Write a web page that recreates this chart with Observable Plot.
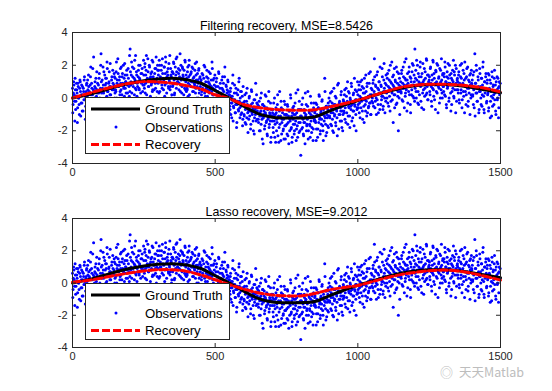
<!DOCTYPE html>
<html><head><meta charset="utf-8">
<script src="https://cdn.jsdelivr.net/npm/d3@7"></script>
<script src="https://cdn.jsdelivr.net/npm/@observablehq/plot@0.6"></script>
<style>
body{margin:0;background:#fff;}
#wrap{position:relative;width:552px;height:391px;font-family:"Liberation Sans",Arial,sans-serif;overflow:hidden;}
.panel{position:absolute;left:0;}
.legend{position:absolute;left:85px;width:145px;background:#fff;border:1px solid #262626;box-sizing:border-box;}
.wm{position:absolute;left:440px;top:362px;color:#bdbdbd;font-size:12.5px;font-family:"Noto Sans CJK SC","Liberation Sans",sans-serif;}
</style>
</head><body><div id="wrap"></div>
<script>
// ---------- data ----------
const xStep = 2; // observation sample spacing; even samples at x = 0,2,4..., odd samples at x = 1,3,5...
const observationsEven = [
0.6,-0.4,1.0,0.2,-1.4,0.5,-0.2,0.9,0.3,-0.6,0.7,0.0,-1.0,1.1,0.4,-0.3,0.8,-0.8,0.2,0.6,-0.1,1.3,0.1,-0.5,0.4,
0.9,-0.2,0.5,1.4,-0.7,0.3,0.8,1.9,-0.1,0.6,0.2,-1.3,2.5,0.4,0.7,-0.4,1.2,0.1,0.5,0.9,-0.6,0.3,1.5,0.0,0.6,
2.7,0.3,1.1,-0.2,0.8,1.6,0.5,-0.6,1.2,0.9,0.1,1.8,0.4,-0.3,1.0,0.7,2.1,0.2,0.6,1.3,-0.5,0.9,0.5,1.5,0.0,
1.2,0.4,2.2,0.9,-0.1,1.5,0.7,1.1,0.2,1.8,0.5,-0.5,1.3,0.9,2.0,0.6,0.1,1.4,1.0,0.3,1.7,0.8,-0.3,1.2,0.7,
2.6,3.0,0.8,1.4,0.3,1.9,0.9,-0.2,1.2,2.3,0.6,1.0,1.6,0.1,0.7,1.3,2.0,0.5,1.1,-0.4,1.5,0.9,1.8,0.4,1.0,
1.4,0.6,2.1,0.9,1.7,0.2,1.2,2.4,0.7,1.0,1.9,-0.1,1.3,0.8,1.6,0.4,2.2,1.1,0.5,1.5,0.9,1.8,0.0,1.2,2.0,
0.9,1.7,2.3,0.4,1.3,1.0,2.0,0.6,1.5,-0.2,1.1,1.9,0.8,2.5,1.2,0.3,1.6,1.4,0.7,2.1,1.0,0.5,1.8,1.3,0.2,
1.6,0.8,2.2,1.1,0.3,1.9,1.4,0.6,2.5,1.0,-0.1,1.5,0.9,1.7,0.4,2.0,1.2,0.7,1.8,1.3,0.2,1.1,2.3,0.5,1.4,
1.2,0.5,1.9,0.9,2.0,0.2,1.4,0.7,1.6,-0.3,1.0,1.8,0.4,1.3,0.8,2.1,0.6,1.1,0.0,1.5,0.9,1.7,0.3,1.2,0.7,
0.9,0.2,1.5,0.6,-0.4,1.2,0.8,1.9,0.1,0.7,1.3,-0.2,0.5,1.0,1.6,0.3,0.8,-0.6,1.1,0.4,1.8,0.6,0.0,1.2,0.5,
0.5,-0.3,1.0,0.2,-0.8,0.7,1.6,0.0,-0.4,0.9,0.3,-1.1,0.6,1.3,-0.1,0.4,-0.6,1.9,0.1,0.8,-0.3,0.5,1.1,-0.5,0.2,
0.2,-0.7,0.6,-0.3,-1.2,0.1,1.4,-0.5,-0.1,0.8,-0.9,-0.4,0.3,-1.5,-0.2,0.5,-0.8,1.2,-0.6,0.0,-1.0,0.4,-0.3,-1.7,0.7,
-0.3,-1.1,0.2,-0.7,-1.6,-0.2,0.6,-0.9,-0.5,-1.3,0.1,-0.8,-1.9,-0.4,0.4,-1.0,-0.6,-2.0,-0.1,-1.2,-0.7,0.9,-1.4,-0.3,-0.8,
-0.6,-1.5,-0.2,-1.1,-2.0,-0.8,0.3,-1.3,-0.4,-2.8,-1.0,-0.5,-1.7,-0.9,0.1,-1.4,-2.2,-0.7,-1.2,0.4,-1.6,-1.0,-0.3,-2.4,-1.1,
-1.4,-0.7,-2.1,-1.0,0.0,-1.6,-2.7,-0.9,-1.3,-0.4,-2.3,-1.1,-1.8,0.4,-1.2,-2.6,-0.6,-1.5,-0.9,-2.0,-1.3,-0.2,-1.7,-2.5,-1.0,
-1.0,-2.2,-0.5,-1.5,-2.8,-0.8,-1.3,0.2,-1.9,-1.1,-2.4,-0.6,-1.6,-1.0,-2.0,-0.3,-1.4,-2.6,-0.9,-1.7,0.5,-1.2,-2.1,-0.7,-1.5,
-3.5,-1.1,-0.4,-1.8,-1.3,-2.3,-0.7,-1.5,0.3,-1.0,-2.0,-1.6,-0.5,-2.5,-1.2,-0.9,-1.7,0.1,-1.4,-2.1,-0.8,-1.1,-1.9,-0.3,-1.3,
-0.8,-1.5,-2.6,-0.4,-1.1,-1.9,-0.6,0.2,-1.3,-2.2,-0.9,-1.6,-0.2,-1.0,-2.0,-0.7,-1.4,1.2,-1.2,-2.3,-0.5,-1.0,-1.7,-0.3,-1.1,
-0.5,-1.2,0.3,-0.9,-1.7,-0.3,-2.0,-0.7,0.6,-1.1,-0.4,-1.5,0.0,-0.8,-2.3,-0.6,0.9,-1.0,-0.2,-1.4,-0.8,0.4,-1.8,-0.5,-1.0,
-0.2,-0.9,0.5,-0.6,-1.5,0.1,-0.3,1.0,-1.1,-0.5,0.3,-1.8,-0.1,-0.7,0.7,-0.4,-1.2,0.2,-0.8,1.2,-0.5,-0.1,-2.0,0.4,-0.6,
0.2,-0.6,0.8,-0.3,-1.2,0.5,0.0,1.1,-0.8,-0.1,0.6,-1.5,0.3,-0.4,1.4,-0.2,0.7,-0.9,0.1,-0.5,0.9,-0.3,1.6,-1.0,0.2,
0.5,-0.3,1.1,0.2,2.4,-0.6,0.8,0.0,1.4,-0.1,0.6,-0.9,1.0,0.3,1.9,-0.4,0.7,0.1,1.3,-0.7,0.4,2.1,0.0,0.9,-0.2,
0.8,0.0,1.5,0.4,-0.5,1.1,0.6,2.0,-0.2,0.9,0.3,1.3,-1.5,0.7,1.8,0.2,1.0,-0.4,0.5,1.6,0.1,-2.0,0.8,1.2,0.4,
1.0,0.3,1.7,0.6,-0.2,1.3,0.8,2.2,0.1,1.1,0.5,-0.8,1.5,0.9,0.4,1.9,0.7,-0.4,1.2,0.2,1.6,0.8,2.0,0.0,1.0,
3.0,1.2,0.4,2.3,0.8,-0.3,1.5,1.0,0.2,1.9,0.7,1.3,-0.6,0.9,2.1,0.5,1.1,0.1,1.6,0.8,2.4,0.3,1.4,-0.1,1.0,
1.1,0.4,1.8,0.9,-0.2,1.4,0.6,2.2,0.1,1.2,0.8,-0.7,1.6,1.0,0.3,2.0,0.7,1.3,-0.3,0.9,1.7,0.5,1.1,0.0,1.5,
0.7,1.5,0.2,1.9,1.0,-0.4,1.3,0.6,2.1,0.9,0.0,1.4,0.8,-0.8,1.2,0.4,1.7,1.0,0.1,1.6,0.5,2.0,0.9,-0.2,1.1,
1.0,0.3,1.6,-0.3,0.8,1.3,0.5,2.1,-0.1,0.9,0.4,1.5,-0.9,0.7,1.2,0.2,1.8,0.6,-0.5,1.1,0.3,1.4,0.8,0.0,1.7,
0.8,0.1,1.4,0.5,-0.6,2.7,0.9,0.3,1.7,-0.2,0.6,1.1,-0.9,0.4,1.5,0.7,-0.4,1.2,0.2,1.9,0.5,-0.7,1.0,0.3,1.3,
0.6,-0.2,1.1,0.3,-0.8,1.4,0.5,-1.2,0.9,0.1,1.6,-0.5,0.7,0.2,1.2,-0.1,0.8,-1.0,0.4,1.3,0.0,0.6,-0.6,1.0,0.3
];
const observationsOdd = [
-0.9,0.3,0.8,-0.2,1.2,-0.7,0.1,0.5,-1.5,0.9,0.0,-0.4,0.6,1.0,-1.1,0.2,-0.3,0.7,-0.8,0.4,1.1,-0.1,-1.3,0.3,0.8,
0.1,1.1,-0.5,0.7,0.4,-1.0,1.3,0.2,0.9,-0.3,1.8,0.5,-0.8,0.0,1.0,0.6,-0.2,1.6,0.3,-1.4,0.8,1.2,-0.1,0.4,2.0,
1.0,-0.1,0.6,1.9,0.3,-0.9,1.4,0.8,0.0,1.2,2.2,0.4,-0.4,0.9,1.6,0.2,0.7,-0.7,1.1,0.5,1.7,-0.2,0.8,1.3,0.3,
0.5,1.6,0.0,1.1,2.4,0.8,-0.6,1.3,0.4,0.9,1.9,0.2,1.5,-0.2,0.7,1.2,2.1,0.6,1.0,-0.4,1.4,0.3,1.8,0.9,0.1,
0.4,1.6,1.0,2.2,-0.3,1.3,0.7,1.8,0.2,1.1,2.6,0.5,1.4,0.9,-0.1,1.7,0.6,1.2,2.0,0.3,1.0,1.5,-0.5,0.8,2.3,
0.8,1.9,0.3,1.4,2.6,1.0,-0.3,1.6,0.7,2.0,1.2,0.1,1.5,0.9,2.3,0.5,1.3,-0.5,1.1,1.8,0.6,2.5,1.0,0.4,1.7,
1.4,0.3,2.0,1.0,-0.4,1.7,0.8,2.4,1.2,0.5,1.9,0.1,1.5,2.2,0.9,1.3,-0.1,1.8,0.6,1.1,2.6,0.7,1.4,0.0,1.6,
0.7,1.5,2.1,0.2,1.2,0.9,2.4,1.6,-0.3,1.0,1.8,0.5,1.3,2.7,0.8,1.1,0.3,1.9,1.4,-0.2,1.7,0.6,2.2,1.0,0.4,
0.6,1.6,0.1,1.3,2.3,0.8,-0.1,1.5,1.0,1.9,0.4,1.2,-0.6,0.9,1.7,0.3,1.4,2.2,0.7,1.1,0.0,1.8,0.5,1.3,1.0,
1.1,0.4,-0.1,1.4,0.8,2.0,0.3,-0.8,1.0,0.6,1.7,0.1,1.2,-0.3,0.9,0.5,1.5,-0.5,0.7,2.2,0.2,1.1,-0.2,0.8,1.4,
-0.1,0.7,1.2,-0.6,0.4,0.0,1.5,-1.0,0.6,0.2,-0.3,1.1,-0.8,0.5,0.9,-0.2,1.3,0.1,-1.3,0.7,0.3,-0.5,1.0,0.4,-0.9,
-0.5,0.4,-1.0,0.1,-0.3,0.9,-1.4,-0.6,0.3,-0.1,-0.9,0.6,-1.8,-0.4,0.2,-0.7,1.0,-0.2,-1.2,0.4,-0.5,-0.9,0.1,-1.3,-0.3,
-1.0,-0.2,-1.5,-0.6,0.3,-1.2,-0.4,-2.1,-0.8,0.0,-1.1,-0.5,-1.6,0.5,-0.9,-0.3,-1.4,-0.7,-2.2,-0.1,-1.0,-0.6,0.2,-1.3,-0.4,
-1.3,-0.5,-2.0,-0.9,0.0,-1.6,-1.1,-2.5,-0.4,-1.2,-0.8,-1.9,0.2,-1.0,-1.5,-0.6,-2.3,-1.3,-0.2,-1.8,-0.9,-1.4,-2.7,-0.7,-1.1,
-0.9,-1.8,-0.3,-1.4,-2.4,-1.0,-0.6,-2.0,-1.5,0.2,-1.2,-2.7,-0.8,-1.6,-1.1,-0.2,-2.2,-1.3,-0.7,-1.9,-2.5,-1.0,-0.4,-1.7,-1.2,
-1.6,-0.4,-2.3,-1.1,-0.8,-2.0,-1.4,0.0,-1.8,-2.7,-0.9,-1.3,-0.5,-2.2,-1.6,-1.0,0.3,-1.9,-1.2,-2.4,-0.7,-1.5,-0.2,-2.0,-1.1,
-0.7,-1.9,-1.2,0.0,-2.2,-1.5,-0.9,-2.8,-1.1,-0.4,-1.7,-1.3,0.4,-2.0,-0.8,-1.6,-2.4,-1.0,-0.3,-1.8,-1.2,-2.6,-0.6,-1.4,-0.9,
-1.4,-0.3,-1.9,-1.0,-2.4,-0.6,-1.5,0.1,-1.2,-2.0,-0.8,-1.3,-0.1,-1.7,-2.6,-0.9,-1.1,0.4,-1.6,-0.5,-2.1,-1.2,-0.7,-1.8,0.0,
-1.1,-0.2,-1.6,-0.6,0.4,-1.3,-0.9,-2.1,-0.4,-1.0,0.1,-1.7,-0.7,-1.2,0.8,-0.5,-1.9,-0.3,-1.0,-0.6,0.2,-1.4,-0.8,-2.0,-0.1,
-0.8,0.2,-1.3,-0.4,0.6,-0.9,-0.2,-1.6,0.4,-0.6,-1.1,0.0,-0.5,0.9,-1.4,-0.3,-0.8,0.3,-1.7,-0.4,0.5,-1.0,-0.1,-0.7,1.0,
-0.4,0.5,-0.9,0.1,1.0,-0.6,-0.2,0.7,-1.3,0.3,-0.5,1.2,-0.1,-0.8,0.4,-1.1,0.9,0.0,-0.6,1.5,-0.3,0.2,-1.0,0.6,-0.2,
0.0,0.9,-0.5,0.4,1.3,-0.2,0.7,-1.0,0.2,1.6,-0.4,0.5,1.0,-0.7,0.3,0.8,-0.1,1.8,0.1,-0.5,1.1,0.6,-0.9,0.4,1.4,
0.3,1.2,-0.3,0.7,1.7,0.1,-0.8,1.0,0.5,2.2,-0.1,0.8,1.4,0.2,-0.6,1.1,0.6,1.9,-0.3,0.9,0.4,1.5,0.0,-1.0,0.7,
0.4,1.5,-0.1,0.9,1.9,0.6,-0.6,1.2,0.3,2.4,0.8,1.1,-0.3,0.7,1.6,0.2,1.3,-0.9,1.0,0.5,2.1,0.1,0.8,1.4,-0.2,
0.6,1.7,0.0,1.1,2.0,0.4,-0.4,1.3,0.9,2.2,-0.2,0.8,1.5,0.3,1.0,-0.7,1.8,0.6,1.2,0.2,2.3,0.7,-0.1,1.4,0.9,
1.3,0.2,1.9,0.7,-0.5,1.1,2.3,0.5,1.5,-0.1,0.9,1.7,0.4,2.1,0.8,-0.9,1.2,0.6,1.8,0.0,1.0,2.4,0.3,1.4,0.7,
0.4,1.3,2.2,0.1,1.0,-0.6,1.6,0.7,1.2,-0.2,2.0,0.9,0.3,1.5,-0.4,1.1,0.6,2.3,0.0,1.4,0.8,-0.9,1.8,0.5,1.2,
0.5,1.4,-0.1,0.9,2.0,0.3,1.2,-0.6,0.8,1.7,0.1,1.1,2.2,0.4,-0.4,1.3,0.7,1.9,-0.2,0.6,1.0,-1.0,1.5,0.2,0.9,
1.1,0.2,-0.4,1.6,0.6,-1.1,0.9,2.0,0.3,-0.2,1.3,0.7,-0.7,1.8,0.4,0.0,1.2,-0.5,0.8,2.2,0.1,-0.9,1.0,0.5,1.5,
-0.3,0.9,0.2,1.5,-0.6,0.6,1.1,-0.2,0.4,-1.1,1.3,0.0,0.8,-0.4,1.7,0.3,-0.8,1.0,0.5,-0.1,1.2,-1.2,0.7,0.2,0.9
];
const curveX = [0,50,100,150,200,250,300,350,400,450,500,550,600,650,700,750,800,850,900,950,1000,1050,1100,1150,1200,1250,1300,1350,1400,1450,1500];
const groundTruth = [0,0.18,0.42,0.68,0.9,1.06,1.16,1.2,1.12,0.9,0.45,0.0,-0.5,-0.95,-1.18,-1.22,-1.22,-1.15,-0.8,-0.45,-0.15,0.12,0.38,0.6,0.75,0.82,0.82,0.76,0.64,0.48,0.32];
const filteringRecovery = [0,0.25,0.5,0.72,0.9,1.0,0.98,0.9,0.75,0.55,0.2,-0.05,-0.4,-0.58,-0.68,-0.74,-0.75,-0.72,-0.55,-0.35,-0.13,0.13,0.4,0.65,0.78,0.84,0.84,0.8,0.72,0.58,0.37];
const lassoRecovery = [0.05,0.15,0.3,0.48,0.62,0.75,0.82,0.82,0.72,0.5,0.2,-0.1,-0.38,-0.6,-0.74,-0.8,-0.8,-0.65,-0.42,-0.28,-0.15,0.08,0.32,0.52,0.66,0.76,0.8,0.75,0.6,0.4,0.18];
const xTicks = [0,500,1000,1500];
const yTicks = [-4,-2,0,2,4];
const titles = ["Filtering recovery, MSE=8.5426","Lasso recovery, MSE=9.2012"];
const legendLabels = ["Ground Truth","Observations","Recovery"];
const watermark = "天天Matlab";

// ---------- build ----------
const obsData = [
  ...observationsEven.map((y,i)=>({x:i*xStep, y})),
  ...observationsOdd.map((y,i)=>({x:i*xStep+1, y}))
];
const truthData = curveX.map((x,i)=>({x, y:groundTruth[i]}));
const INK = "#262626";

function panel(recovery, title, top, height, mTop, mBottom) {
  const recData = curveX.map((x,i)=>({x, y:recovery[i]}));
  const ph = height - mTop - mBottom;
  const pw = 552 - 72 - 52;
  const svg = Plot.plot({
    width: 552, height,
    marginLeft: 72, marginRight: 52, marginTop: mTop, marginBottom: mBottom,
    x: {domain:[0,1500]},
    y: {domain:[-4,4]},
    style: {fontFamily:'"Liberation Sans",Arial,sans-serif', fontSize:"11px", color:INK, background:"transparent", overflow:"visible"},
    marks: [
      Plot.dot(obsData, {x:"x", y:"y", r:1.5, fill:"#0000ff", stroke:null}),
      Plot.line(truthData, {x:"x", y:"y", stroke:"#000", strokeWidth:3, curve:"catmull-rom"}),
      Plot.line(recData, {x:"x", y:"y", stroke:"#ff0000", strokeWidth:3, strokeDasharray:"8,3", curve:"catmull-rom"}),
      Plot.tickX(xTicks, {x:d=>d, stroke:INK, insetTop: ph-4}),
      Plot.tickX(xTicks, {x:d=>d, stroke:INK, insetBottom: ph-4}),
      Plot.tickY(yTicks, {y:d=>d, stroke:INK, insetRight: pw-4}),
      Plot.tickY(yTicks, {y:d=>d, stroke:INK, insetLeft: pw-4}),
      Plot.frame({stroke:INK}),
      Plot.axisX({ticks:xTicks, tickSize:0, tickPadding:5, fontSize:11, label:null, tickFormat:d=>String(d)}),
      Plot.axisY({ticks:yTicks, tickSize:0, tickPadding:5, fontSize:11, label:null, tickFormat:d=>String(d)}),
      Plot.text([title], {frameAnchor:"top", dy:-11, fontSize:12.4, fill:"#000"})
    ]
  });
  svg.classList.add("panel");
  svg.style.top = top + "px";
  return svg;
}

function legend(top) {
  const div = document.createElement("div");
  div.className = "legend";
  div.style.top = top + "px";
  div.style.height = "57px";
  const ns = "http://www.w3.org/2000/svg";
  const s = document.createElementNS(ns, "svg");
  s.setAttribute("width", 143); s.setAttribute("height", 55);
  s.style.display = "block";
  const rows = [11, 29, 46.5];
  const styles = [
    {stroke:"#000", dash:null},
    {dot:true},
    {stroke:"#ff0000", dash:"8,3"}
  ];
  legendLabels.forEach((lab, i) => {
    const st = styles[i];
    if (st.dot) {
      const c = document.createElementNS(ns, "circle");
      c.setAttribute("cx", 30); c.setAttribute("cy", rows[i]); c.setAttribute("r", 1.5);
      c.setAttribute("fill", "#0000ff");
      s.appendChild(c);
    } else {
      const l = document.createElementNS(ns, "line");
      l.setAttribute("x1", 5); l.setAttribute("x2", 54);
      l.setAttribute("y1", rows[i]); l.setAttribute("y2", rows[i]);
      l.setAttribute("stroke", st.stroke); l.setAttribute("stroke-width", 3);
      if (st.dash) l.setAttribute("stroke-dasharray", st.dash);
      s.appendChild(l);
    }
    const t = document.createElementNS(ns, "text");
    t.setAttribute("x", 59); t.setAttribute("y", rows[i]);
    t.setAttribute("dy", "0.35em");
    t.setAttribute("font-size", "13.2px");
    t.setAttribute("fill", "#000");
    t.setAttribute("font-family", '"Liberation Sans",Arial,sans-serif');
    t.textContent = lab;
    s.appendChild(t);
  });
  div.appendChild(s);
  return div;
}

const wrap = document.getElementById("wrap");
wrap.appendChild(panel(filteringRecovery, titles[0], 0, 186, 32, 23));
wrap.appendChild(panel(lassoRecovery, titles[1], 186, 205, 32, 44));
wrap.appendChild(legend(97));
wrap.appendChild(legend(283));
const wm = document.createElement("div");
wm.className = "wm";
wm.innerHTML = '<span style="font-size:13px;margin-right:6px">◎</span>' + watermark;
wrap.appendChild(wm);
</script>
</body></html>
